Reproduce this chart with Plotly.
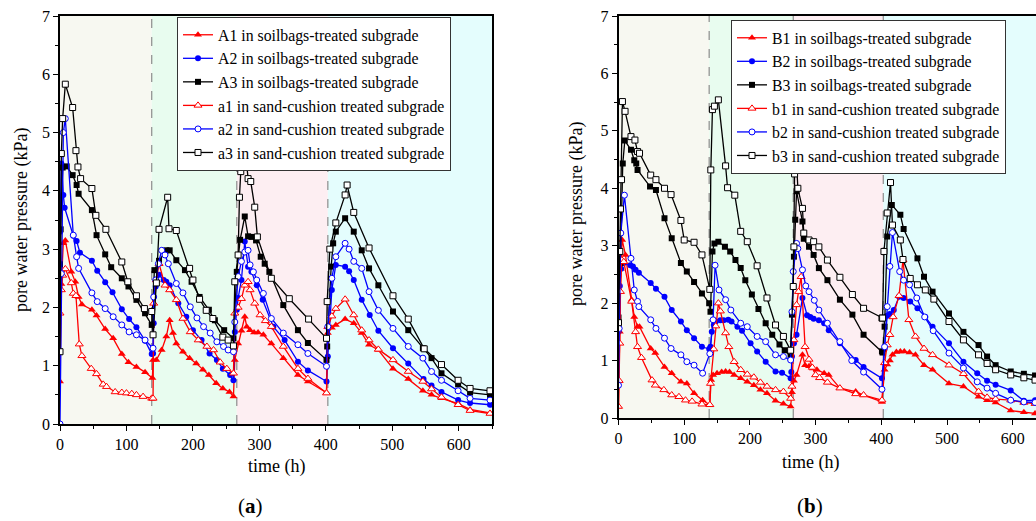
import plotly.graph_objects as go

# ---------------- panel (a) data: time (h), pore water pressure (kPa) ----------------
A1_t = [0, 2, 5, 8, 17, 23, 28, 33, 48, 55, 68, 80, 93, 103, 115, 128, 139,
        140, 145, 153, 160, 165, 170, 175, 185, 195, 205, 215, 224, 235, 245, 255, 261,
        263, 268, 273, 278, 281, 286, 292, 298, 306, 318, 336, 358, 373, 401,
        403, 409, 415, 429, 442, 454, 465, 479, 501, 524, 546, 559, 574, 599, 617, 647]
A1_v = [0.73, 2.4, 3.1, 3.15, 2.61, 2.44, 2.18, 2.05, 1.96, 1.86, 1.63, 1.47, 1.2, 1.06, 0.98, 0.89, 0.79,
        1.10, 1.10, 1.27, 1.50, 1.78, 1.56, 1.38, 1.24, 1.13, 1.04, 0.93, 0.84, 0.70, 0.61, 0.55, 0.47,
        1.10, 1.38, 1.60, 1.84, 1.67, 1.61, 1.57, 1.57, 1.53, 1.38, 1.13, 0.84, 0.73, 0.54,
        1.56, 1.65, 1.70, 1.80, 1.73, 1.56, 1.36, 1.27, 0.95, 0.77, 0.57, 0.50, 0.44, 0.35, 0.25, 0.19]

A2_t = [0, 2, 5, 7, 20, 25, 30, 48, 56, 68, 79, 93, 104, 115, 128, 138,
        140, 141, 144, 149, 156, 160, 165, 178, 190, 200, 213, 225, 236, 245, 256, 261,
        263, 266, 268, 273, 278, 283, 288, 296, 305, 321, 338, 358, 373, 401,
        403, 409, 415, 429, 435, 442, 454, 466, 479, 501, 524, 547, 559, 574, 599, 617, 647]
A2_v = [3.3, 4.47, 3.93, 3.71, 3.23, 3.14, 2.94, 2.80, 2.63, 2.43, 2.26, 1.97, 1.80, 1.66, 1.43, 1.20,
        1.21, 1.73, 2.36, 2.56, 2.47, 2.44, 2.38, 2.07, 1.84, 1.61, 1.44, 1.21, 1.10, 0.95, 0.84, 0.75,
        1.58, 1.96, 2.16, 2.47, 3.13, 2.70, 2.61, 2.38, 2.13, 1.67, 1.44, 1.07, 0.92, 0.73,
        1.16, 2.30, 2.73, 2.70, 2.62, 2.47, 2.13, 1.87, 1.60, 1.30, 1.04, 0.77, 0.66, 0.55, 0.41, 0.36, 0.33]

A3_t = [0, 1, 4, 10, 19, 25, 28, 48, 55, 68, 77, 93, 103, 115, 128, 138,
        142, 149, 160, 165, 175, 188, 198, 210, 224, 233, 247, 261,
        266, 271, 278, 283, 288, 295, 302, 308, 315, 336, 358, 373, 401,
        402, 408, 411, 415, 429, 442, 454, 465, 479, 501, 524, 546, 559, 574, 599, 617, 647]
A3_v = [2.74, 3.34, 4.40, 4.42, 4.27, 4.10, 3.95, 3.67, 3.24, 2.91, 2.69, 2.50, 2.36, 2.13, 1.90, 1.70,
        2.64, 2.80, 2.98, 2.98, 2.81, 2.64, 2.44, 2.18, 1.96, 1.78, 1.61, 1.47,
        2.61, 3.16, 3.56, 3.22, 3.21, 3.15, 2.87, 2.75, 2.61, 2.04, 1.61, 1.39, 1.10,
        1.33, 2.70, 3.10, 3.30, 3.53, 3.30, 2.98, 2.67, 2.38, 1.93, 1.61, 1.30, 1.13, 0.87, 0.68, 0.54, 0.50]

a1_t = [0, 2, 4, 8, 17, 20, 24, 29, 33, 47, 55, 65, 70, 83, 93, 100, 108, 115, 125, 138,
        140, 141, 145, 149, 158, 165, 175, 185, 196, 208, 221, 231, 241, 251, 261,
        263, 268, 273, 278, 283, 286, 293, 301, 309, 318, 336, 358, 373, 401,
        403, 409, 415, 429, 442, 454, 465, 479, 501, 524, 546, 559, 574, 599, 617, 647]
a1_v = [1.9, 2.3, 2.55, 2.66, 2.42, 2.24, 2.2, 1.37, 1.17, 0.95, 0.86, 0.68, 0.64, 0.55, 0.54, 0.53, 0.52, 0.50, 0.47, 0.44,
        0.44, 2.07, 2.47, 2.75, 2.38, 2.30, 2.13, 1.81, 1.58, 1.44, 1.33, 1.27, 1.06, 0.95, 0.87,
        1.90, 2.00, 2.15, 2.38, 2.44, 2.30, 2.07, 1.87, 1.77, 1.67, 1.33, 0.95, 0.78, 0.53,
        1.67, 1.85, 1.98, 2.14, 1.87, 1.61, 1.44, 1.28, 1.10, 0.90, 0.73, 0.60, 0.46, 0.33, 0.23, 0.18]

a2_t = [0, 2, 5, 8, 20, 25, 28, 48, 56, 68, 80, 93, 104, 115, 128, 140,
        141, 144, 148, 153, 158, 163, 175, 185, 196, 206, 216, 226, 236, 246, 253, 261,
        263, 268, 273, 278, 283, 286, 291, 296, 306, 318, 336, 358, 373, 401,
        403, 409, 415, 429, 435, 442, 454, 465, 479, 501, 524, 546, 559, 574, 599, 617, 647]
a2_v = [0.0, 2.58, 5.0, 5.24, 3.24, 2.87, 2.67, 2.25, 2.10, 1.98, 1.84, 1.70, 1.58, 1.53, 1.44, 1.30,
        2.18, 2.47, 2.75, 2.98, 2.90, 2.75, 2.41, 2.25, 2.01, 1.82, 1.67, 1.56, 1.41, 1.33, 1.27, 1.24,
        1.75, 2.53, 2.79, 2.95, 2.98, 2.73, 2.61, 2.47, 2.24, 1.81, 1.56, 1.36, 1.21, 0.99,
        1.67, 2.50, 2.87, 3.10, 3.00, 2.79, 2.67, 2.27, 1.95, 1.64, 1.33, 1.13, 0.90, 0.75, 0.57, 0.44, 0.41]

a3_t = [0, 2, 4, 8, 19, 24, 27, 31, 48, 54, 69, 93, 102, 115, 127, 138,
        140, 145, 149, 162, 164, 175, 195, 200, 210, 220, 230, 245, 253, 261,
        263, 268, 270, 272, 279, 283, 287, 293, 297, 318, 345, 374, 401,
        402, 406, 415, 429, 432, 442, 465, 501, 524, 548, 574, 599, 617, 647]
a3_v = [1.24, 4.64, 5.24, 5.83, 5.43, 4.69, 4.41, 4.21, 4.04, 3.58, 3.34, 2.78, 2.44, 2.20, 1.98, 1.93,
        1.53, 2.42, 3.34, 3.89, 3.35, 3.32, 2.67, 2.47, 2.14, 1.95, 1.81, 1.49, 1.44, 1.34,
        2.44, 2.90, 3.89, 4.33, 4.69, 4.21, 4.16, 3.72, 3.21, 2.50, 2.15, 1.80, 1.47,
        2.10, 3.00, 3.45, 3.93, 4.10, 3.63, 3.02, 2.20, 1.80, 1.29, 1.02, 0.75, 0.61, 0.57]

# ---------------- panel (b) data ----------------
B1_t = [0, 2, 3.5, 5.6, 10.6, 20, 24, 29, 32, 49, 56, 70, 81, 95, 104, 115, 128, 139,
        141, 144, 150, 157, 163, 169, 176, 186, 196, 206, 216, 226, 239, 251, 262,
        264, 267, 271, 280, 284, 290, 296, 302, 313, 320, 337, 361, 373, 401,
        405, 409, 413, 417, 423, 429, 435, 443, 452, 465, 478, 503, 525, 548, 561, 574, 597, 617, 634]
B1_v = [0.2, 1.5, 2.6, 3.10, 2.84, 2.06, 1.76, 1.59, 1.59, 1.21, 1.13, 0.89, 0.78, 0.63, 0.60, 0.43, 0.31, 0.23,
        0.66, 0.75, 0.78, 0.80, 0.81, 0.80, 0.75, 0.69, 0.63, 0.57, 0.49, 0.43, 0.30, 0.25, 0.20,
        0.45, 0.65, 0.75, 1.10, 0.92, 0.90, 0.86, 0.84, 0.78, 0.75, 0.52, 0.46, 0.40, 0.28,
        0.84, 0.93, 1.00, 1.10, 1.15, 1.16, 1.16, 1.14, 1.10, 0.92, 0.84, 0.60, 0.55, 0.37, 0.31, 0.27, 0.13, 0.10, 0.08]

B2_t = [0, 2, 4, 8, 18, 22, 26, 31, 49, 57, 70, 81, 95, 104, 115, 127, 138,
        140, 142, 145, 148, 155, 160, 167, 172, 181, 188, 201, 211, 224, 239, 249, 262,
        263, 264, 267, 271, 280, 287, 292, 297, 305, 313, 320, 337, 361, 373, 401,
        405, 409, 413, 419, 427, 434, 444, 455, 467, 478, 503, 525, 546, 561, 574, 597, 617, 634]
B2_v = [1.5, 2.3, 2.6, 2.7, 2.66, 2.64, 2.58, 2.53, 2.35, 2.25, 2.11, 1.88, 1.68, 1.53, 1.39, 1.24, 1.20,
        1.24, 1.50, 1.62, 1.68, 1.70, 1.70, 1.71, 1.68, 1.59, 1.52, 1.30, 1.16, 0.98, 0.81, 0.79, 0.69,
        0.80, 1.07, 1.30, 1.45, 2.09, 1.79, 1.76, 1.73, 1.70, 1.65, 1.53, 1.30, 1.01, 0.89, 0.69,
        1.20, 1.78, 1.81, 1.88, 2.11, 2.09, 2.03, 1.91, 1.76, 1.59, 1.30, 0.98, 0.78, 0.65, 0.58, 0.48, 0.30, 0.31]

B3_t = [0, 3, 6.5, 9.6, 19, 24, 27, 29, 48, 57, 70, 81, 95, 104, 115, 127, 138,
        140, 143, 146, 152, 162, 170, 178, 186, 193, 203, 213, 224, 234, 245, 253, 262,
        264, 267, 269, 271, 280, 282, 290, 297, 305, 318, 337, 356, 373, 401,
        402, 405, 409, 416, 429, 434, 455, 465, 478, 503, 525, 548, 561, 574, 597, 617, 634]
B3_v = [1.75, 2.7, 4.43, 4.83, 4.67, 4.49, 4.43, 4.32, 4.03, 3.97, 3.48, 3.13, 2.70, 2.55, 2.37, 2.17, 2.00,
        1.85, 2.90, 3.04, 3.07, 2.98, 2.90, 2.75, 2.61, 2.40, 2.15, 1.90, 1.65, 1.45, 1.28, 1.18, 1.07,
        1.80, 2.81, 3.45, 3.95, 3.42, 3.12, 2.98, 2.84, 2.61, 2.40, 2.06, 1.80, 1.45, 1.16,
        1.14, 1.59, 3.16, 3.71, 3.54, 3.29, 2.78, 2.46, 2.20, 1.82, 1.50, 1.27, 1.07, 0.92, 0.81, 0.77, 0.74]

b1_t = [0, 1, 2, 3, 5, 8, 20, 26, 29, 35, 51, 56, 69, 81, 92, 102, 112, 127, 139,
        140, 145, 148, 152, 155, 163, 168, 176, 186, 196, 206, 216, 226, 239, 251, 262,
        264, 267, 271, 274, 278, 284, 290, 295, 300, 306, 318, 337, 361, 373, 401,
        405, 409, 413, 418, 427, 433, 442, 452, 465, 478, 503, 525, 548, 561, 574, 597, 617, 634]
b1_v = [0.2, 0.65, 1.3, 2.2, 2.75, 2.72, 2.03, 1.50, 1.24, 1.05, 0.66, 0.57, 0.49, 0.40, 0.37, 0.31, 0.29, 0.24, 0.23,
        0.60, 1.20, 1.60, 2.00, 1.86, 1.48, 1.24, 0.98, 0.84, 0.76, 0.71, 0.62, 0.55, 0.49, 0.46, 0.34,
        0.55, 1.36, 1.97, 2.20, 2.46, 1.24, 1.02, 0.88, 0.75, 0.70, 0.62, 0.52, 0.42, 0.40, 0.31,
        0.96, 1.27, 1.45, 1.76, 2.13, 2.75, 1.71, 1.42, 1.21, 1.10, 0.92, 0.77, 0.46, 0.36, 0.33, 0.31, 0.27, 0.25]

b2_t = [0, 1, 3.5, 9, 19, 24, 29, 31, 49, 57, 70, 80, 95, 104, 115, 128, 139,
        144, 147, 153, 163, 171, 186, 196, 211, 224, 239, 251, 262,
        264, 266, 271, 273, 280, 285, 290, 298, 305, 318, 337, 355, 373, 401,
        405, 409, 413, 417, 428, 434, 443, 454, 466, 479, 503, 525, 546, 561, 574, 597, 617, 634]
b2_v = [0.57, 1.56, 3.22, 3.88, 2.78, 2.23, 2.03, 1.94, 1.71, 1.56, 1.39, 1.21, 1.10, 0.98, 0.92, 0.78, 1.12,
        1.71, 2.66, 2.23, 2.06, 1.88, 1.65, 1.59, 1.42, 1.33, 1.10, 1.07, 1.01,
        1.85, 2.55, 3.04, 2.95, 2.58, 2.30, 2.20, 2.05, 1.88, 1.65, 1.33, 1.00, 0.80, 0.50,
        1.24, 1.94, 2.64, 3.23, 2.55, 2.40, 2.32, 2.09, 1.76, 1.52, 1.13, 0.87, 0.63, 0.52, 0.43, 0.31, 0.28, 0.27]

b3_t = [0, 2, 3, 4.6, 6, 10, 19, 25, 29, 32, 49, 57, 70, 80, 95, 100, 115, 127, 139,
        140.5, 143, 146, 152, 163, 166, 177, 186, 196, 211, 226, 239, 251, 262,
        266, 267, 268, 271, 273, 280, 282, 290, 297, 305, 318, 337, 356, 373, 401,
        402, 404, 409, 414, 417, 429, 433, 444, 455, 467, 480, 503, 525, 548, 561, 574, 597, 617, 634]
b3_v = [1.66, 2.9, 3.64, 4.15, 5.51, 5.34, 4.90, 4.84, 4.64, 4.61, 4.23, 4.15, 4.00, 3.89, 3.44, 3.10, 3.06, 2.84, 2.24,
        4.32, 5.37, 5.43, 5.54, 4.39, 4.01, 3.88, 3.25, 3.07, 2.65, 2.09, 1.62, 1.42, 1.18,
        2.29, 2.98, 4.25, 4.45, 4.00, 3.65, 3.22, 3.10, 3.07, 2.98, 2.75, 2.45, 2.15, 1.91, 1.74,
        1.74, 2.90, 3.57, 4.10, 3.36, 3.10, 2.76, 2.43, 2.32, 2.23, 2.07, 1.68, 1.36, 1.10, 0.95, 0.84, 0.75, 0.70, 0.66]

# stage boundaries (h) and shaded stage colours
stage_edges = [0, 138, 266, 403, 650]
stage_colors = ["#f7f8f1", "#e8fcef", "#fdeef2", "#e4fdfd"]

RED, BLUE, BLACK = "#ff0000", "#0000ff", "#000000"
FONT = "Liberation Serif"

series_a = [
    ("A1 in soilbags-treated subgrade", A1_t, A1_v, RED, "triangle-up", True),
    ("A2 in soilbags-treated subgrade", A2_t, A2_v, BLUE, "circle", True),
    ("A3 in soilbags-treated subgrade", A3_t, A3_v, BLACK, "square", True),
    ("a1 in sand-cushion treated subgrade", a1_t, a1_v, RED, "triangle-up", False),
    ("a2 in sand-cushion treated subgrade", a2_t, a2_v, BLUE, "circle", False),
    ("a3 in sand-cushion treated subgrade", a3_t, a3_v, BLACK, "square", False),
]
series_b = [
    ("B1 in soilbags-treated subgrade", B1_t, B1_v, RED, "triangle-up", True),
    ("B2 in soilbags-treated subgrade", B2_t, B2_v, BLUE, "circle", True),
    ("B3 in soilbags-treated subgrade", B3_t, B3_v, BLACK, "square", True),
    ("b1 in sand-cushion treated subgrade", b1_t, b1_v, RED, "triangle-up", False),
    ("b2 in sand-cushion treated subgrade", b2_t, b2_v, BLUE, "circle", False),
    ("b3 in sand-cushion treated subgrade", b3_t, b3_v, BLACK, "square", False),
]

fig = go.Figure()


def add_series(series, xa, ya, legend):
    for name, t, v, col, sym, filled in series:
        fig.add_trace(go.Scatter(
            x=t, y=v, name=name, mode="lines+markers", xaxis=xa, yaxis=ya, legend=legend,
            line=dict(color=col, width=1.3),
            marker=dict(symbol=sym, size=6 if sym != "triangle-up" else 7,
                        color=col if filled else "white",
                        line=dict(color=col, width=1 if not filled else 0)),
        ))


add_series(series_a, "x", "y", "legend")
add_series(series_b, "x2", "y2", "legend2")

W, H = 1036, 521
XMAX_B = (W - 618.5) / 0.657

shapes = []
for xref, yref, xmax in [("x", "y domain", 650), ("x2", "y2 domain", XMAX_B)]:
    for i, c in enumerate(stage_colors):
        shapes.append(dict(type="rect", xref=xref, yref=yref, x0=stage_edges[i],
                           x1=min(stage_edges[i + 1], xmax), y0=0, y1=1,
                           fillcolor=c, line=dict(width=0), layer="below"))
    for e in stage_edges[1:-1]:
        shapes.append(dict(type="line", xref=xref, yref=yref, x0=e, x1=e, y0=0, y1=1,
                           line=dict(color="#8c8c8c", width=1.2, dash="dash"), layer="below"))

axis_common = dict(showline=True, linecolor="black", linewidth=1.5, ticks="outside",
                   ticklen=5, tickwidth=1.2, tickcolor="black", showgrid=False, zeroline=False,
                   automargin=False,
                   tickfont=dict(family=FONT, size=16, color="black"))

LEG_FONT = dict(family=FONT, size=15.8, color="black")

fig.update_layout(
    width=W, height=H, margin=dict(l=0, r=0, t=0, b=0, pad=0, autoexpand=False),
    paper_bgcolor="white", plot_bgcolor="white",
    showlegend=True, shapes=shapes,
    xaxis=dict(domain=[60 / W, 492 / W], range=[0, 650], anchor="y", mirror=True,
               tickvals=[0, 100, 200, 300, 400, 500, 600],
               minor=dict(dtick=50, ticks="outside", ticklen=3, tickcolor="black"), **axis_common),
    yaxis=dict(domain=[1 - 424 / H, 1 - 16 / H], range=[0, 7], anchor="x", mirror=True,
               dtick=1, minor=dict(dtick=0.5, ticks="outside", ticklen=3, tickcolor="black"),
               **axis_common),
    xaxis2=dict(domain=[618.5 / W, 1.0], range=[0, XMAX_B], anchor="y2", mirror=True,
                tickvals=[0, 100, 200, 300, 400, 500, 600],
                minor=dict(dtick=50, ticks="outside", ticklen=3, tickcolor="black"), **axis_common),
    yaxis2=dict(domain=[1 - 418 / H, 1 - 16 / H], range=[0, 7], anchor="x2",
                dtick=1, minor=dict(dtick=0.5, ticks="outside", ticklen=3, tickcolor="black"),
                **axis_common),
    legend=dict(x=177 / W, y=1 - 17 / H, xanchor="left", yanchor="top", bgcolor="white",
                bordercolor="#333", borderwidth=1, tracegroupgap=0, font=LEG_FONT),
    legend2=dict(x=731 / W, y=1 - 20 / H, xanchor="left", yanchor="top", bgcolor="white",
                 bordercolor="#333", borderwidth=1, tracegroupgap=0, font=LEG_FONT),
)

ann_font = dict(family=FONT, size=18, color="black")


def label(text, px, py, angle=0, font=ann_font):
    fig.add_annotation(text=text, x=px / W, y=1 - py / H, xref="paper", yref="paper",
                       xanchor="center", yanchor="middle", textangle=angle,
                       showarrow=False, font=font)


label("pore water pressure (kPa)", 22, 220, -90)
label("pore water pressure (kPa)", 576, 214, -90)
label("time (h)", 276, 466)
label("time (h)", 810, 462)
label("(<b>a</b>)", 250, 506, font=dict(family=FONT, size=21, color="black"))
label("(<b>b</b>)", 810, 506, font=dict(family=FONT, size=21, color="black"))

fig.write_html("out.html", config={"displayModeBar": False},
               post_script="document.body.style.margin='0';document.body.style.overflow='hidden';")
